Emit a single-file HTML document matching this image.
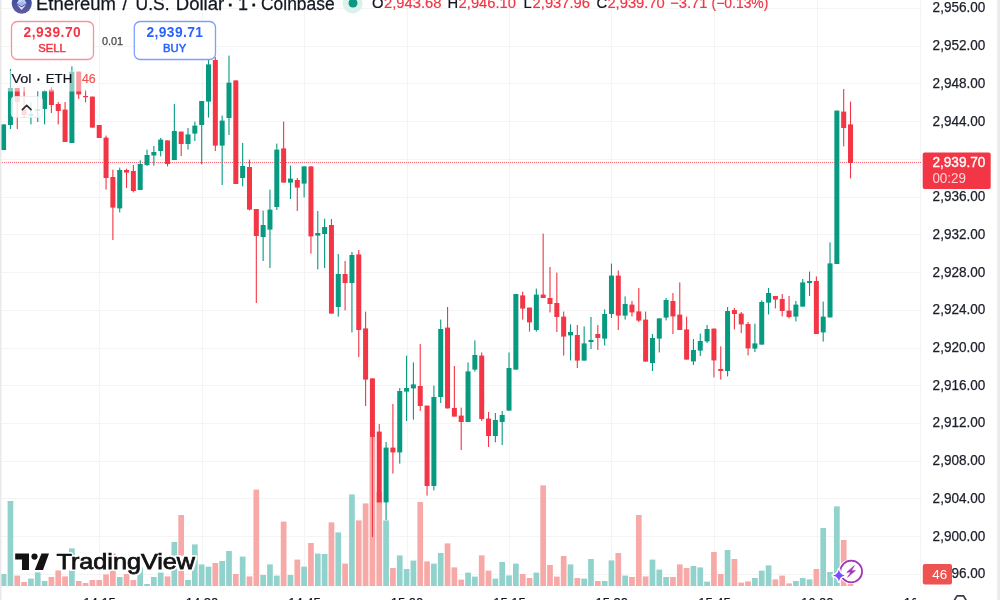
<!DOCTYPE html>
<html><head><meta charset="utf-8"><title>ETHUSD chart</title>
<style>html,body{margin:0;padding:0;background:#fff;width:1000px;height:600px;overflow:hidden}svg{filter:blur(0.45px)}</style>
</head><body>
<svg width="1000" height="600" viewBox="0 0 1000 600" style="position:absolute;left:0;top:0">
<rect width="1000" height="600" fill="#fff"/>
<g stroke="#f4f4f5" stroke-width="1" shape-rendering="crispEdges">
<line x1="0" x2="922" y1="8.5" y2="8.5"/>
<line x1="0" x2="922" y1="46.23" y2="46.23"/>
<line x1="0" x2="922" y1="83.96" y2="83.96"/>
<line x1="0" x2="922" y1="121.69" y2="121.69"/>
<line x1="0" x2="922" y1="159.42" y2="159.42"/>
<line x1="0" x2="922" y1="197.15" y2="197.15"/>
<line x1="0" x2="922" y1="234.88" y2="234.88"/>
<line x1="0" x2="922" y1="272.61" y2="272.61"/>
<line x1="0" x2="922" y1="310.34" y2="310.34"/>
<line x1="0" x2="922" y1="348.07" y2="348.07"/>
<line x1="0" x2="922" y1="385.8" y2="385.8"/>
<line x1="0" x2="922" y1="423.53" y2="423.53"/>
<line x1="0" x2="922" y1="461.26" y2="461.26"/>
<line x1="0" x2="922" y1="498.99" y2="498.99"/>
<line x1="0" x2="922" y1="536.72" y2="536.72"/>
<line x1="0" x2="922" y1="574.45" y2="574.45"/>
<line x1="99.6" x2="99.6" y1="0" y2="586"/>
<line x1="202" x2="202" y1="0" y2="586"/>
<line x1="304.5" x2="304.5" y1="0" y2="586"/>
<line x1="407" x2="407" y1="0" y2="586"/>
<line x1="509.5" x2="509.5" y1="0" y2="586"/>
<line x1="611.8" x2="611.8" y1="0" y2="586"/>
<line x1="714.5" x2="714.5" y1="0" y2="586"/>
<line x1="817.2" x2="817.2" y1="0" y2="586"/>
<line x1="920.5" x2="920.5" y1="0" y2="586"/>
</g>
<g>
<rect x="0.75" y="574" width="5.7" height="12" fill="#92D2CC"/>
<rect x="7.58" y="501" width="5.7" height="85" fill="#92D2CC"/>
<rect x="14.41" y="575.6" width="5.7" height="10.4" fill="#F7A9A7"/>
<rect x="21.24" y="582" width="5.7" height="4" fill="#F7A9A7"/>
<rect x="28.07" y="578.6" width="5.7" height="7.4" fill="#92D2CC"/>
<rect x="34.9" y="572.4" width="5.7" height="13.6" fill="#92D2CC"/>
<rect x="41.73" y="581" width="5.7" height="5" fill="#92D2CC"/>
<rect x="48.56" y="577" width="5.7" height="9" fill="#F7A9A7"/>
<rect x="55.39" y="570.4" width="5.7" height="15.6" fill="#F7A9A7"/>
<rect x="62.22" y="576.4" width="5.7" height="9.6" fill="#F7A9A7"/>
<rect x="69.05" y="548.4" width="5.7" height="37.6" fill="#92D2CC"/>
<rect x="75.88" y="581" width="5.7" height="5" fill="#F7A9A7"/>
<rect x="82.71" y="583" width="5.7" height="3" fill="#F7A9A7"/>
<rect x="89.54" y="580" width="5.7" height="6" fill="#F7A9A7"/>
<rect x="96.37" y="580" width="5.7" height="6" fill="#F7A9A7"/>
<rect x="103.2" y="574.4" width="5.7" height="11.6" fill="#F7A9A7"/>
<rect x="110.03" y="553.6" width="5.7" height="32.4" fill="#F7A9A7"/>
<rect x="116.86" y="577" width="5.7" height="9" fill="#92D2CC"/>
<rect x="123.69" y="574" width="5.7" height="12" fill="#F7A9A7"/>
<rect x="130.52" y="580" width="5.7" height="6" fill="#F7A9A7"/>
<rect x="137.35" y="567.6" width="5.7" height="18.4" fill="#92D2CC"/>
<rect x="144.18" y="584" width="5.7" height="2" fill="#92D2CC"/>
<rect x="151.01" y="577" width="5.7" height="9" fill="#92D2CC"/>
<rect x="157.84" y="572.6" width="5.7" height="13.4" fill="#92D2CC"/>
<rect x="164.67" y="576.4" width="5.7" height="9.6" fill="#F7A9A7"/>
<rect x="171.5" y="542" width="5.7" height="44" fill="#92D2CC"/>
<rect x="178.33" y="515" width="5.7" height="71" fill="#F7A9A7"/>
<rect x="185.16" y="580" width="5.7" height="6" fill="#92D2CC"/>
<rect x="191.99" y="544.4" width="5.7" height="41.6" fill="#92D2CC"/>
<rect x="198.82" y="564.4" width="5.7" height="21.6" fill="#92D2CC"/>
<rect x="205.65" y="566.6" width="5.7" height="19.4" fill="#92D2CC"/>
<rect x="212.48" y="563" width="5.7" height="23" fill="#F7A9A7"/>
<rect x="219.31" y="561" width="5.7" height="25" fill="#92D2CC"/>
<rect x="226.14" y="551" width="5.7" height="35" fill="#92D2CC"/>
<rect x="232.97" y="574" width="5.7" height="12" fill="#F7A9A7"/>
<rect x="239.8" y="556.6" width="5.7" height="29.4" fill="#92D2CC"/>
<rect x="246.63" y="576.4" width="5.7" height="9.6" fill="#F7A9A7"/>
<rect x="253.46" y="489.6" width="5.7" height="96.4" fill="#F7A9A7"/>
<rect x="260.29" y="575" width="5.7" height="11" fill="#92D2CC"/>
<rect x="267.12" y="564.4" width="5.7" height="21.6" fill="#92D2CC"/>
<rect x="273.95" y="575.6" width="5.7" height="10.4" fill="#92D2CC"/>
<rect x="280.78" y="521.6" width="5.7" height="64.4" fill="#F7A9A7"/>
<rect x="287.61" y="575" width="5.7" height="11" fill="#92D2CC"/>
<rect x="294.44" y="559.6" width="5.7" height="26.4" fill="#F7A9A7"/>
<rect x="301.27" y="566.6" width="5.7" height="19.4" fill="#92D2CC"/>
<rect x="308.1" y="543" width="5.7" height="43" fill="#F7A9A7"/>
<rect x="314.93" y="553.6" width="5.7" height="32.4" fill="#92D2CC"/>
<rect x="321.76" y="554" width="5.7" height="32" fill="#92D2CC"/>
<rect x="328.59" y="522.4" width="5.7" height="63.6" fill="#F7A9A7"/>
<rect x="335.42" y="532.4" width="5.7" height="53.6" fill="#92D2CC"/>
<rect x="342.25" y="563.6" width="5.7" height="22.4" fill="#F7A9A7"/>
<rect x="349.08" y="494.4" width="5.7" height="91.6" fill="#92D2CC"/>
<rect x="355.91" y="520.4" width="5.7" height="65.6" fill="#F7A9A7"/>
<rect x="362.74" y="503.4" width="5.7" height="82.6" fill="#F7A9A7"/>
<rect x="369.57" y="437" width="5.7" height="149" fill="#F7A9A7"/>
<rect x="376.4" y="492" width="5.7" height="94" fill="#F7A9A7"/>
<rect x="383.23" y="520.4" width="5.7" height="65.6" fill="#92D2CC"/>
<rect x="390.06" y="568" width="5.7" height="18" fill="#F7A9A7"/>
<rect x="396.89" y="555.4" width="5.7" height="30.6" fill="#92D2CC"/>
<rect x="403.72" y="569" width="5.7" height="17" fill="#92D2CC"/>
<rect x="410.55" y="560.6" width="5.7" height="25.4" fill="#92D2CC"/>
<rect x="417.38" y="502" width="5.7" height="84" fill="#F7A9A7"/>
<rect x="424.21" y="561.4" width="5.7" height="24.6" fill="#F7A9A7"/>
<rect x="431.04" y="563.6" width="5.7" height="22.4" fill="#92D2CC"/>
<rect x="437.87" y="553" width="5.7" height="33" fill="#92D2CC"/>
<rect x="444.7" y="543.4" width="5.7" height="42.6" fill="#F7A9A7"/>
<rect x="451.53" y="567.4" width="5.7" height="18.6" fill="#F7A9A7"/>
<rect x="458.36" y="579.6" width="5.7" height="6.4" fill="#F7A9A7"/>
<rect x="465.19" y="572.6" width="5.7" height="13.4" fill="#92D2CC"/>
<rect x="472.02" y="576.6" width="5.7" height="9.4" fill="#92D2CC"/>
<rect x="478.85" y="555.4" width="5.7" height="30.6" fill="#F7A9A7"/>
<rect x="485.68" y="570.6" width="5.7" height="15.4" fill="#F7A9A7"/>
<rect x="492.51" y="578.6" width="5.7" height="7.4" fill="#92D2CC"/>
<rect x="499.34" y="562" width="5.7" height="24" fill="#92D2CC"/>
<rect x="506.17" y="575.4" width="5.7" height="10.6" fill="#92D2CC"/>
<rect x="513" y="563.6" width="5.7" height="22.4" fill="#92D2CC"/>
<rect x="519.83" y="574" width="5.7" height="12" fill="#F7A9A7"/>
<rect x="526.66" y="578" width="5.7" height="8" fill="#F7A9A7"/>
<rect x="533.49" y="572.6" width="5.7" height="13.4" fill="#92D2CC"/>
<rect x="540.32" y="485.4" width="5.7" height="100.6" fill="#F7A9A7"/>
<rect x="547.15" y="565" width="5.7" height="21" fill="#F7A9A7"/>
<rect x="553.98" y="576.6" width="5.7" height="9.4" fill="#F7A9A7"/>
<rect x="560.81" y="556" width="5.7" height="30" fill="#F7A9A7"/>
<rect x="567.64" y="564.4" width="5.7" height="21.6" fill="#92D2CC"/>
<rect x="574.47" y="578" width="5.7" height="8" fill="#F7A9A7"/>
<rect x="581.3" y="578.6" width="5.7" height="7.4" fill="#92D2CC"/>
<rect x="588.13" y="559" width="5.7" height="27" fill="#92D2CC"/>
<rect x="594.96" y="581" width="5.7" height="5" fill="#F7A9A7"/>
<rect x="601.79" y="581" width="5.7" height="5" fill="#92D2CC"/>
<rect x="608.62" y="560.4" width="5.7" height="25.6" fill="#92D2CC"/>
<rect x="615.45" y="553" width="5.7" height="33" fill="#F7A9A7"/>
<rect x="622.28" y="575.6" width="5.7" height="10.4" fill="#92D2CC"/>
<rect x="629.11" y="577" width="5.7" height="9" fill="#F7A9A7"/>
<rect x="635.94" y="515" width="5.7" height="71" fill="#F7A9A7"/>
<rect x="642.77" y="576.4" width="5.7" height="9.6" fill="#F7A9A7"/>
<rect x="649.6" y="559.6" width="5.7" height="26.4" fill="#92D2CC"/>
<rect x="656.43" y="569.6" width="5.7" height="16.4" fill="#92D2CC"/>
<rect x="663.26" y="577" width="5.7" height="9" fill="#92D2CC"/>
<rect x="670.09" y="577" width="5.7" height="9" fill="#F7A9A7"/>
<rect x="676.92" y="564.4" width="5.7" height="21.6" fill="#F7A9A7"/>
<rect x="683.75" y="568" width="5.7" height="18" fill="#F7A9A7"/>
<rect x="690.58" y="566" width="5.7" height="20" fill="#92D2CC"/>
<rect x="697.41" y="567.4" width="5.7" height="18.6" fill="#92D2CC"/>
<rect x="704.24" y="581.6" width="5.7" height="4.4" fill="#92D2CC"/>
<rect x="711.07" y="552" width="5.7" height="34" fill="#F7A9A7"/>
<rect x="717.9" y="574" width="5.7" height="12" fill="#F7A9A7"/>
<rect x="724.73" y="550" width="5.7" height="36" fill="#92D2CC"/>
<rect x="731.56" y="559" width="5.7" height="27" fill="#F7A9A7"/>
<rect x="738.39" y="582.6" width="5.7" height="3.4" fill="#F7A9A7"/>
<rect x="745.22" y="581.4" width="5.7" height="4.6" fill="#F7A9A7"/>
<rect x="752.05" y="578" width="5.7" height="8" fill="#92D2CC"/>
<rect x="758.88" y="570.6" width="5.7" height="15.4" fill="#92D2CC"/>
<rect x="765.71" y="565.4" width="5.7" height="20.6" fill="#92D2CC"/>
<rect x="772.54" y="579.4" width="5.7" height="6.6" fill="#F7A9A7"/>
<rect x="779.37" y="575.6" width="5.7" height="10.4" fill="#F7A9A7"/>
<rect x="786.2" y="583.4" width="5.7" height="2.6" fill="#F7A9A7"/>
<rect x="793.03" y="581" width="5.7" height="5" fill="#92D2CC"/>
<rect x="799.86" y="578" width="5.7" height="8" fill="#92D2CC"/>
<rect x="806.69" y="579.4" width="5.7" height="6.6" fill="#92D2CC"/>
<rect x="813.52" y="569" width="5.7" height="17" fill="#F7A9A7"/>
<rect x="820.35" y="528" width="5.7" height="58" fill="#92D2CC"/>
<rect x="827.18" y="572" width="5.7" height="14" fill="#92D2CC"/>
<rect x="834.01" y="506.4" width="5.7" height="79.6" fill="#92D2CC"/>
<rect x="840.84" y="540" width="5.7" height="46" fill="#F7A9A7"/>
<rect x="847.67" y="584" width="5.7" height="2" fill="#F7A9A7"/>
</g>
<line x1="0" x2="921" y1="162.5" y2="162.5" stroke="#F23645" stroke-width="1" stroke-dasharray="1 1" opacity="0.75"/>
<g>
<rect x="3.05" y="124.4" width="1.1" height="25.6" fill="#089981"/>
<rect x="1.1" y="124.4" width="5" height="25.6" fill="#089981"/>
<rect x="9.88" y="69" width="1.1" height="60" fill="#089981"/>
<rect x="7.93" y="88" width="5" height="37" fill="#089981"/>
<rect x="16.71" y="88" width="1.1" height="41" fill="#F23645"/>
<rect x="14.76" y="88" width="5" height="14" fill="#F23645"/>
<rect x="23.54" y="87" width="1.1" height="31" fill="#F23645"/>
<rect x="21.59" y="109" width="5" height="6" fill="#F23645"/>
<rect x="30.37" y="102" width="1.1" height="22.4" fill="#089981"/>
<rect x="28.42" y="114" width="5" height="1.6" fill="#089981"/>
<rect x="37.2" y="91" width="1.1" height="31" fill="#089981"/>
<rect x="35.25" y="109" width="5" height="2" fill="#089981"/>
<rect x="44.03" y="90" width="1.1" height="34.4" fill="#089981"/>
<rect x="42.08" y="91" width="5" height="18" fill="#089981"/>
<rect x="50.86" y="87" width="1.1" height="26" fill="#F23645"/>
<rect x="48.91" y="89.6" width="5" height="15.4" fill="#F23645"/>
<rect x="57.69" y="102" width="1.1" height="22.4" fill="#F23645"/>
<rect x="55.74" y="104" width="5" height="7" fill="#F23645"/>
<rect x="64.52" y="102" width="1.1" height="40" fill="#F23645"/>
<rect x="62.57" y="109.6" width="5" height="32.4" fill="#F23645"/>
<rect x="71.35" y="66.4" width="1.1" height="76.6" fill="#089981"/>
<rect x="69.4" y="71.6" width="5" height="71.4" fill="#089981"/>
<rect x="78.18" y="71.6" width="1.1" height="27.4" fill="#F23645"/>
<rect x="76.23" y="71.6" width="5" height="22.8" fill="#F23645"/>
<rect x="85.01" y="90" width="1.1" height="12.4" fill="#F23645"/>
<rect x="83.06" y="96" width="5" height="1.2" fill="#F23645"/>
<rect x="91.84" y="96.6" width="1.1" height="31" fill="#F23645"/>
<rect x="89.89" y="96.6" width="5" height="31" fill="#F23645"/>
<rect x="98.67" y="125" width="1.1" height="13" fill="#F23645"/>
<rect x="96.72" y="125" width="5" height="13" fill="#F23645"/>
<rect x="105.5" y="135.6" width="1.1" height="54" fill="#F23645"/>
<rect x="103.55" y="137.6" width="5" height="40.4" fill="#F23645"/>
<rect x="112.33" y="169.6" width="1.1" height="70.4" fill="#F23645"/>
<rect x="110.38" y="177" width="5" height="30.6" fill="#F23645"/>
<rect x="119.16" y="167.6" width="1.1" height="44.8" fill="#089981"/>
<rect x="117.21" y="170" width="5" height="38.4" fill="#089981"/>
<rect x="125.99" y="168.6" width="1.1" height="19.4" fill="#F23645"/>
<rect x="124.04" y="170" width="5" height="2.6" fill="#F23645"/>
<rect x="132.82" y="165" width="1.1" height="27.4" fill="#F23645"/>
<rect x="130.87" y="171" width="5" height="20" fill="#F23645"/>
<rect x="139.65" y="160.4" width="1.1" height="29.6" fill="#089981"/>
<rect x="137.7" y="164" width="5" height="26" fill="#089981"/>
<rect x="146.48" y="149.6" width="1.1" height="16.4" fill="#089981"/>
<rect x="144.53" y="155" width="5" height="10" fill="#089981"/>
<rect x="153.31" y="146" width="1.1" height="19.6" fill="#089981"/>
<rect x="151.36" y="152" width="5" height="3.5" fill="#089981"/>
<rect x="160.14" y="138" width="1.1" height="18.4" fill="#089981"/>
<rect x="158.19" y="139.6" width="5" height="11.4" fill="#089981"/>
<rect x="166.97" y="140.4" width="1.1" height="26" fill="#F23645"/>
<rect x="165.02" y="140.4" width="5" height="23.6" fill="#F23645"/>
<rect x="173.8" y="104" width="1.1" height="56" fill="#089981"/>
<rect x="171.85" y="131" width="5" height="29" fill="#089981"/>
<rect x="180.63" y="131.6" width="1.1" height="24.4" fill="#F23645"/>
<rect x="178.68" y="131.6" width="5" height="12.4" fill="#F23645"/>
<rect x="187.46" y="128" width="1.1" height="21.6" fill="#089981"/>
<rect x="185.51" y="134.4" width="5" height="9.6" fill="#089981"/>
<rect x="194.29" y="121.6" width="1.1" height="19.4" fill="#089981"/>
<rect x="192.34" y="125.6" width="5" height="8" fill="#089981"/>
<rect x="201.12" y="101" width="1.1" height="63.4" fill="#089981"/>
<rect x="199.17" y="101" width="5" height="24" fill="#089981"/>
<rect x="207.95" y="60" width="1.1" height="57.6" fill="#089981"/>
<rect x="206" y="64.4" width="5" height="37.2" fill="#089981"/>
<rect x="214.78" y="57" width="1.1" height="94" fill="#F23645"/>
<rect x="212.83" y="60" width="5" height="85.6" fill="#F23645"/>
<rect x="221.61" y="115.6" width="1.1" height="69.4" fill="#089981"/>
<rect x="219.66" y="120.6" width="5" height="25" fill="#089981"/>
<rect x="228.44" y="55.6" width="1.1" height="79.4" fill="#089981"/>
<rect x="226.49" y="82.6" width="5" height="35.4" fill="#089981"/>
<rect x="235.27" y="80.4" width="1.1" height="103.6" fill="#F23645"/>
<rect x="233.32" y="80.4" width="5" height="103.6" fill="#F23645"/>
<rect x="242.1" y="143" width="1.1" height="43.4" fill="#089981"/>
<rect x="240.15" y="166" width="5" height="12" fill="#089981"/>
<rect x="248.93" y="159.6" width="1.1" height="50.8" fill="#F23645"/>
<rect x="246.98" y="167" width="5" height="42.6" fill="#F23645"/>
<rect x="255.76" y="209" width="1.1" height="94" fill="#F23645"/>
<rect x="253.81" y="209" width="5" height="27" fill="#F23645"/>
<rect x="262.59" y="210.6" width="1.1" height="50.4" fill="#089981"/>
<rect x="260.64" y="225" width="5" height="12" fill="#089981"/>
<rect x="269.42" y="189.6" width="1.1" height="78.4" fill="#089981"/>
<rect x="267.47" y="209.6" width="5" height="20" fill="#089981"/>
<rect x="276.25" y="143.6" width="1.1" height="66.4" fill="#089981"/>
<rect x="274.3" y="149.6" width="5" height="57.4" fill="#089981"/>
<rect x="283.08" y="121.6" width="1.1" height="61" fill="#F23645"/>
<rect x="281.13" y="148.4" width="5" height="34.2" fill="#F23645"/>
<rect x="289.91" y="165.6" width="1.1" height="33.4" fill="#089981"/>
<rect x="287.96" y="178.6" width="5" height="4" fill="#089981"/>
<rect x="296.74" y="178" width="1.1" height="33" fill="#F23645"/>
<rect x="294.79" y="180" width="5" height="7.6" fill="#F23645"/>
<rect x="303.57" y="166.4" width="1.1" height="31" fill="#089981"/>
<rect x="301.62" y="166.4" width="5" height="17.2" fill="#089981"/>
<rect x="310.4" y="166.4" width="1.1" height="87.2" fill="#F23645"/>
<rect x="308.45" y="166.4" width="5" height="70" fill="#F23645"/>
<rect x="317.23" y="211" width="1.1" height="58.4" fill="#089981"/>
<rect x="315.28" y="233" width="5" height="2.6" fill="#089981"/>
<rect x="324.06" y="218.6" width="1.1" height="49.4" fill="#089981"/>
<rect x="322.11" y="227" width="5" height="7" fill="#089981"/>
<rect x="330.89" y="219" width="1.1" height="94.6" fill="#F23645"/>
<rect x="328.94" y="225" width="5" height="88.6" fill="#F23645"/>
<rect x="337.72" y="254" width="1.1" height="62.6" fill="#089981"/>
<rect x="335.77" y="274" width="5" height="33" fill="#089981"/>
<rect x="344.55" y="261" width="1.1" height="49.4" fill="#F23645"/>
<rect x="342.6" y="274" width="5" height="9" fill="#F23645"/>
<rect x="351.38" y="252" width="1.1" height="80.4" fill="#089981"/>
<rect x="349.43" y="255" width="5" height="28" fill="#089981"/>
<rect x="358.21" y="250" width="1.1" height="107" fill="#F23645"/>
<rect x="356.26" y="254.4" width="5" height="75.6" fill="#F23645"/>
<rect x="365.04" y="311.6" width="1.1" height="94.4" fill="#F23645"/>
<rect x="363.09" y="328.4" width="5" height="51.2" fill="#F23645"/>
<rect x="371.87" y="378.4" width="1.1" height="158.6" fill="#F23645"/>
<rect x="369.92" y="378.4" width="5" height="58.6" fill="#F23645"/>
<rect x="378.7" y="424" width="1.1" height="78.4" fill="#F23645"/>
<rect x="376.75" y="431.6" width="5" height="70.8" fill="#F23645"/>
<rect x="385.53" y="442" width="1.1" height="78" fill="#089981"/>
<rect x="383.58" y="447.6" width="5" height="54.8" fill="#089981"/>
<rect x="392.36" y="404" width="1.1" height="69.6" fill="#F23645"/>
<rect x="390.41" y="447.6" width="5" height="4.8" fill="#F23645"/>
<rect x="399.19" y="388" width="1.1" height="75.6" fill="#089981"/>
<rect x="397.24" y="391" width="5" height="61.4" fill="#089981"/>
<rect x="406.02" y="355.6" width="1.1" height="65.4" fill="#089981"/>
<rect x="404.07" y="388" width="5" height="3.6" fill="#089981"/>
<rect x="412.85" y="362.4" width="1.1" height="57.2" fill="#089981"/>
<rect x="410.9" y="384.4" width="5" height="4" fill="#089981"/>
<rect x="419.68" y="344" width="1.1" height="67" fill="#F23645"/>
<rect x="417.73" y="386" width="5" height="20" fill="#F23645"/>
<rect x="426.51" y="405.6" width="1.1" height="90" fill="#F23645"/>
<rect x="424.56" y="405.6" width="5" height="80.4" fill="#F23645"/>
<rect x="433.34" y="385.6" width="1.1" height="104.8" fill="#089981"/>
<rect x="431.39" y="397" width="5" height="89" fill="#089981"/>
<rect x="440.17" y="319.6" width="1.1" height="83.4" fill="#089981"/>
<rect x="438.22" y="329" width="5" height="68" fill="#089981"/>
<rect x="447" y="307" width="1.1" height="101.4" fill="#F23645"/>
<rect x="445.05" y="327.6" width="5" height="80.8" fill="#F23645"/>
<rect x="453.83" y="366" width="1.1" height="50.6" fill="#F23645"/>
<rect x="451.88" y="408" width="5" height="8.6" fill="#F23645"/>
<rect x="460.66" y="407.6" width="1.1" height="42.4" fill="#F23645"/>
<rect x="458.71" y="415.6" width="5" height="6.4" fill="#F23645"/>
<rect x="467.49" y="362.4" width="1.1" height="59.6" fill="#089981"/>
<rect x="465.54" y="371.4" width="5" height="50.6" fill="#089981"/>
<rect x="474.32" y="340.4" width="1.1" height="31.2" fill="#089981"/>
<rect x="472.37" y="355" width="5" height="14.6" fill="#089981"/>
<rect x="481.15" y="352.4" width="1.1" height="68.6" fill="#F23645"/>
<rect x="479.2" y="355.6" width="5" height="63.4" fill="#F23645"/>
<rect x="487.98" y="412" width="1.1" height="35" fill="#F23645"/>
<rect x="486.03" y="418.6" width="5" height="17.4" fill="#F23645"/>
<rect x="494.81" y="413" width="1.1" height="29.4" fill="#089981"/>
<rect x="492.86" y="420" width="5" height="16" fill="#089981"/>
<rect x="501.64" y="411" width="1.1" height="34" fill="#089981"/>
<rect x="499.69" y="415" width="5" height="7" fill="#089981"/>
<rect x="508.47" y="352.5" width="1.1" height="58.1" fill="#089981"/>
<rect x="506.52" y="368" width="5" height="42.6" fill="#089981"/>
<rect x="515.3" y="294" width="1.1" height="75.6" fill="#089981"/>
<rect x="513.35" y="294" width="5" height="75.6" fill="#089981"/>
<rect x="522.13" y="291.6" width="1.1" height="28" fill="#F23645"/>
<rect x="520.18" y="295.4" width="5" height="13.2" fill="#F23645"/>
<rect x="528.96" y="307.6" width="1.1" height="24" fill="#F23645"/>
<rect x="527.01" y="307.6" width="5" height="14.8" fill="#F23645"/>
<rect x="535.79" y="288.6" width="1.1" height="43" fill="#089981"/>
<rect x="533.84" y="294.6" width="5" height="35.4" fill="#089981"/>
<rect x="542.62" y="233.6" width="1.1" height="64.4" fill="#F23645"/>
<rect x="540.67" y="294.6" width="5" height="3.4" fill="#F23645"/>
<rect x="549.45" y="267" width="1.1" height="45.4" fill="#F23645"/>
<rect x="547.5" y="298" width="5" height="6" fill="#F23645"/>
<rect x="556.28" y="272.6" width="1.1" height="59.4" fill="#F23645"/>
<rect x="554.33" y="303" width="5" height="14" fill="#F23645"/>
<rect x="563.11" y="311.6" width="1.1" height="44" fill="#F23645"/>
<rect x="561.16" y="316.6" width="5" height="20" fill="#F23645"/>
<rect x="569.94" y="324.4" width="1.1" height="36" fill="#089981"/>
<rect x="567.99" y="332" width="5" height="3.4" fill="#089981"/>
<rect x="576.77" y="325" width="1.1" height="43" fill="#F23645"/>
<rect x="574.82" y="335" width="5" height="25.6" fill="#F23645"/>
<rect x="583.6" y="326.4" width="1.1" height="34.2" fill="#089981"/>
<rect x="581.65" y="343.4" width="5" height="17.2" fill="#089981"/>
<rect x="590.43" y="317" width="1.1" height="32" fill="#089981"/>
<rect x="588.48" y="340" width="5" height="2" fill="#089981"/>
<rect x="597.26" y="325" width="1.1" height="25" fill="#F23645"/>
<rect x="595.31" y="334" width="5" height="4" fill="#F23645"/>
<rect x="604.09" y="309.4" width="1.1" height="36" fill="#089981"/>
<rect x="602.14" y="314" width="5" height="24.6" fill="#089981"/>
<rect x="610.92" y="263.6" width="1.1" height="54.4" fill="#089981"/>
<rect x="608.97" y="275.6" width="5" height="38.4" fill="#089981"/>
<rect x="617.75" y="270.4" width="1.1" height="59.6" fill="#F23645"/>
<rect x="615.8" y="275.6" width="5" height="40" fill="#F23645"/>
<rect x="624.58" y="296.4" width="1.1" height="23.2" fill="#089981"/>
<rect x="622.63" y="304" width="5" height="11.6" fill="#089981"/>
<rect x="631.41" y="301" width="1.1" height="15.4" fill="#F23645"/>
<rect x="629.46" y="304.6" width="5" height="7.8" fill="#F23645"/>
<rect x="638.24" y="288" width="1.1" height="34" fill="#F23645"/>
<rect x="636.29" y="311.4" width="5" height="9.2" fill="#F23645"/>
<rect x="645.07" y="311.6" width="1.1" height="50" fill="#F23645"/>
<rect x="643.12" y="319.6" width="5" height="42" fill="#F23645"/>
<rect x="651.9" y="334" width="1.1" height="37" fill="#089981"/>
<rect x="649.95" y="338" width="5" height="25" fill="#089981"/>
<rect x="658.73" y="318.4" width="1.1" height="34" fill="#089981"/>
<rect x="656.78" y="318.4" width="5" height="20.2" fill="#089981"/>
<rect x="665.56" y="298" width="1.1" height="22.4" fill="#089981"/>
<rect x="663.61" y="300" width="5" height="17.6" fill="#089981"/>
<rect x="672.39" y="293" width="1.1" height="41" fill="#F23645"/>
<rect x="670.44" y="301" width="5" height="15.4" fill="#F23645"/>
<rect x="679.22" y="282.4" width="1.1" height="47.6" fill="#F23645"/>
<rect x="677.27" y="314.6" width="5" height="15.4" fill="#F23645"/>
<rect x="686.05" y="316.6" width="1.1" height="43" fill="#F23645"/>
<rect x="684.1" y="329.4" width="5" height="30.2" fill="#F23645"/>
<rect x="692.88" y="339" width="1.1" height="26" fill="#089981"/>
<rect x="690.93" y="350" width="5" height="11.4" fill="#089981"/>
<rect x="699.71" y="333.6" width="1.1" height="22.4" fill="#089981"/>
<rect x="697.76" y="341" width="5" height="9.6" fill="#089981"/>
<rect x="706.54" y="325" width="1.1" height="18" fill="#089981"/>
<rect x="704.59" y="329" width="5" height="12.4" fill="#089981"/>
<rect x="713.37" y="328.6" width="1.1" height="48.8" fill="#F23645"/>
<rect x="711.42" y="328.6" width="5" height="31.8" fill="#F23645"/>
<rect x="720.2" y="346.4" width="1.1" height="33.2" fill="#F23645"/>
<rect x="718.25" y="369" width="5" height="2" fill="#F23645"/>
<rect x="727.03" y="307" width="1.1" height="69.4" fill="#089981"/>
<rect x="725.08" y="311" width="5" height="60" fill="#089981"/>
<rect x="733.86" y="308" width="1.1" height="21.4" fill="#F23645"/>
<rect x="731.91" y="310" width="5" height="4" fill="#F23645"/>
<rect x="740.69" y="312" width="1.1" height="21" fill="#F23645"/>
<rect x="738.74" y="313.6" width="5" height="10.8" fill="#F23645"/>
<rect x="747.52" y="322" width="1.1" height="33.4" fill="#F23645"/>
<rect x="745.57" y="324" width="5" height="24.4" fill="#F23645"/>
<rect x="754.35" y="323.6" width="1.1" height="28.4" fill="#089981"/>
<rect x="752.4" y="343.4" width="5" height="5.2" fill="#089981"/>
<rect x="761.18" y="300.4" width="1.1" height="44.2" fill="#089981"/>
<rect x="759.23" y="302" width="5" height="42.6" fill="#089981"/>
<rect x="768.01" y="288" width="1.1" height="26.4" fill="#089981"/>
<rect x="766.06" y="293" width="5" height="9.6" fill="#089981"/>
<rect x="774.84" y="296" width="1.1" height="12.4" fill="#F23645"/>
<rect x="772.89" y="296" width="5" height="3.6" fill="#F23645"/>
<rect x="781.67" y="294" width="1.1" height="22.4" fill="#F23645"/>
<rect x="779.72" y="299" width="5" height="12" fill="#F23645"/>
<rect x="788.5" y="296" width="1.1" height="22.4" fill="#F23645"/>
<rect x="786.55" y="310.6" width="5" height="6.4" fill="#F23645"/>
<rect x="795.33" y="301" width="1.1" height="20.4" fill="#089981"/>
<rect x="793.38" y="304.6" width="5" height="12" fill="#089981"/>
<rect x="802.16" y="279" width="1.1" height="27.6" fill="#089981"/>
<rect x="800.21" y="282.4" width="5" height="24.2" fill="#089981"/>
<rect x="808.99" y="271.6" width="1.1" height="24.4" fill="#089981"/>
<rect x="807.04" y="281" width="5" height="2" fill="#089981"/>
<rect x="815.82" y="276.4" width="1.1" height="57.6" fill="#F23645"/>
<rect x="813.87" y="281" width="5" height="53" fill="#F23645"/>
<rect x="822.65" y="301.6" width="1.1" height="40" fill="#089981"/>
<rect x="820.7" y="316.6" width="5" height="15.8" fill="#089981"/>
<rect x="829.48" y="242.4" width="1.1" height="75" fill="#089981"/>
<rect x="827.53" y="263.4" width="5" height="54" fill="#089981"/>
<rect x="836.31" y="110.6" width="1.1" height="153.4" fill="#089981"/>
<rect x="834.36" y="110.6" width="5" height="153.4" fill="#089981"/>
<rect x="843.14" y="89" width="1.1" height="57.4" fill="#F23645"/>
<rect x="841.19" y="111.6" width="5" height="16.4" fill="#F23645"/>
<rect x="849.97" y="101.6" width="1.1" height="76.8" fill="#F23645"/>
<rect x="848.02" y="124.4" width="5" height="38.6" fill="#F23645"/>
</g>
<!-- price axis labels -->
<g font-family="'Liberation Sans', sans-serif" font-size="14" fill="#1c1f2a" stroke="#1c1f2a" stroke-width="0.25" text-anchor="start">
<text x="932.6" y="12.4" textLength="52.8" lengthAdjust="spacingAndGlyphs">2,956.00</text>
<text x="932.6" y="50.13" textLength="52.8" lengthAdjust="spacingAndGlyphs">2,952.00</text>
<text x="932.6" y="87.86" textLength="52.8" lengthAdjust="spacingAndGlyphs">2,948.00</text>
<text x="932.6" y="125.59" textLength="52.8" lengthAdjust="spacingAndGlyphs">2,944.00</text>
<text x="932.6" y="163.32" textLength="52.8" lengthAdjust="spacingAndGlyphs">2,940.00</text>
<text x="932.6" y="201.05" textLength="52.8" lengthAdjust="spacingAndGlyphs">2,936.00</text>
<text x="932.6" y="238.78" textLength="52.8" lengthAdjust="spacingAndGlyphs">2,932.00</text>
<text x="932.6" y="276.51" textLength="52.8" lengthAdjust="spacingAndGlyphs">2,928.00</text>
<text x="932.6" y="314.24" textLength="52.8" lengthAdjust="spacingAndGlyphs">2,924.00</text>
<text x="932.6" y="351.97" textLength="52.8" lengthAdjust="spacingAndGlyphs">2,920.00</text>
<text x="932.6" y="389.7" textLength="52.8" lengthAdjust="spacingAndGlyphs">2,916.00</text>
<text x="932.6" y="427.43" textLength="52.8" lengthAdjust="spacingAndGlyphs">2,912.00</text>
<text x="932.6" y="465.16" textLength="52.8" lengthAdjust="spacingAndGlyphs">2,908.00</text>
<text x="932.6" y="502.89" textLength="52.8" lengthAdjust="spacingAndGlyphs">2,904.00</text>
<text x="932.6" y="540.62" textLength="52.8" lengthAdjust="spacingAndGlyphs">2,900.00</text>
<text x="932.6" y="578.35" textLength="52.8" lengthAdjust="spacingAndGlyphs">2,896.00</text>
</g>
<!-- time labels -->
<g font-family="'Liberation Sans', sans-serif" font-size="13" fill="#131722" stroke="#131722" stroke-width="0.25" text-anchor="middle">
<text x="99.6" y="606.6">14:15</text>
<text x="202" y="606.6">14:30</text>
<text x="304.5" y="606.6">14:45</text>
<text x="407" y="606.6">15:00</text>
<text x="509.5" y="606.6">15:15</text>
<text x="611.8" y="606.6">15:30</text>
<text x="714.5" y="606.6">15:45</text>
<text x="817.2" y="606.6">16:00</text>
<clipPath id="cl"><rect x="0" y="590" width="916" height="10"/></clipPath><text x="920" y="606.6" clip-path="url(#cl)">16:15</text>
</g>
<!-- last price label -->
<rect x="922.7" y="152.5" width="68" height="36.5" rx="2" fill="#F23645"/>
<g font-family="'Liberation Sans', sans-serif" fill="#fff">
<text x="932.4" y="166.7" font-size="14" stroke="#fff" stroke-width="0.35" textLength="53" lengthAdjust="spacingAndGlyphs">2,939.70</text>
<text x="932.4" y="182.8" font-size="14" fill="#fbd3d6" textLength="33.6" lengthAdjust="spacingAndGlyphs">00:29</text>
</g>
<!-- volume label on axis -->
<rect x="922.8" y="564" width="29.2" height="20.6" rx="2" fill="#EF5350"/>
<text x="932.3" y="579" font-family="'Liberation Sans', sans-serif" font-size="13.4" fill="#fff">46</text>
<!-- header: eth icon -->
<defs><linearGradient id="eg" x1="0" y1="0" x2="0" y2="1"><stop offset="0" stop-color="#2f4a9c"/><stop offset="1" stop-color="#605c9f"/></linearGradient></defs>
<circle cx="21.75" cy="3.6" r="10.05" fill="url(#eg)"/>
<path d="M21.6 -4.8 L26.4 3.3 L21.6 6.1 L16.8 3.3 Z" fill="#d3dcf9"/>
<path d="M21.6 -4.8 L26.4 3.3 L21.6 1.2 Z" fill="#bccaf5"/>
<path d="M21.6 1.2 L26.4 3.3 L21.6 6.1 L16.8 3.3 Z" fill="#a3b8f0"/>
<path d="M21.6 7.3 L26.3 4.5 L21.6 10.1 L16.9 4.5 Z" fill="#dfe6fa"/>
<g font-family="'Liberation Sans', sans-serif" font-size="18" fill="#131722" stroke="#131722" stroke-width="0.25">
<text x="36" y="9.6" textLength="80" lengthAdjust="spacingAndGlyphs">Ethereum</text>
<text x="122.4" y="9.6">/</text>
<text x="135.6" y="9.6" textLength="34" lengthAdjust="spacingAndGlyphs">U.S.</text>
<text x="175.8" y="9.6" textLength="48.4" lengthAdjust="spacingAndGlyphs">Dollar</text>
<text x="227.3" y="9.6" stroke-width="1.1" stroke-linejoin="round">·</text>
<text x="238" y="9.6">1</text>
<text x="250.8" y="9.6" stroke-width="1.1" stroke-linejoin="round">·</text>
<text x="261" y="9.6" textLength="73.6" lengthAdjust="spacingAndGlyphs">Coinbase</text>
</g>
<circle cx="352.6" cy="3.4" r="10" fill="#dcf0ec"/>
<circle cx="353" cy="3" r="4.5" fill="#089981"/>
<g font-family="'Liberation Sans', sans-serif" font-size="14.75" fill="#F23645" stroke="#F23645" stroke-width="0.2">
<text y="8.3"><tspan x="372" fill="#131722" stroke="#131722">O</tspan><tspan x="384">2,943.68</tspan> <tspan x="447.4" fill="#131722" stroke="#131722">H</tspan><tspan x="458.6">2,946.10</tspan> <tspan x="523.6" fill="#131722" stroke="#131722">L</tspan><tspan x="532.6">2,937.96</tspan> <tspan x="596.6" fill="#131722" stroke="#131722">C</tspan><tspan x="607.4">2,939.70</tspan> <tspan x="670.2">−3.71</tspan> <tspan x="711.6" font-size="13.9">(−0.13%)</tspan></text>
</g>
<!-- sell / buy -->
<rect x="11.5" y="21.5" width="82" height="38" rx="5.8" fill="#fff" stroke="#f7929b" stroke-width="1.3"/>
<g font-family="'Liberation Sans', sans-serif" fill="#F23645" text-anchor="middle">
<text x="52.2" y="37.1" font-size="13.8" font-weight="bold" textLength="57.2" lengthAdjust="spacing">2,939.70</text>
<text x="52" y="52" font-size="11.3" stroke="#F23645" stroke-width="0.5">SELL</text>
</g>
<text x="112.5" y="44.6" font-family="'Liberation Sans', sans-serif" font-size="10.8" fill="#444" stroke="#444" stroke-width="0.25" text-anchor="middle">0.01</text>
<rect x="134.3" y="21.5" width="81.2" height="38" rx="5.8" fill="#fff" stroke="#7f9fff" stroke-width="1.3"/>
<g font-family="'Liberation Sans', sans-serif" fill="#2962FF" text-anchor="middle">
<text x="174.7" y="37.1" font-size="13.8" font-weight="bold" textLength="56.4" lengthAdjust="spacing">2,939.71</text>
<text x="174.6" y="52" font-size="11.3" stroke="#2962FF" stroke-width="0.5">BUY</text>
</g>
<!-- legend -->
<rect x="8" y="70.8" width="90" height="20.7" fill="#fff" opacity="0.5"/>
<g font-family="'Liberation Sans', sans-serif" font-size="13.2" fill="#131722" stroke="#131722" stroke-width="0.2">
<text x="11.4" y="82.8" textLength="20.2" lengthAdjust="spacingAndGlyphs">Vol</text>
<text x="36.3" y="82.8" stroke-width="0.7" stroke-linejoin="round">·</text>
<text x="45.8" y="82.8">ETH</text>
</g>
<text x="82" y="82.8" font-family="'Liberation Sans', sans-serif" font-size="13.2" fill="#EF5350" stroke="#EF5350" stroke-width="0.2" textLength="13.7" lengthAdjust="spacingAndGlyphs">46</text>
<!-- collapse button -->
<rect x="11.3" y="96.6" width="31" height="20.8" rx="3.5" fill="#fff" fill-opacity="0.82" stroke="#e6e8ee" stroke-width="0.8"/>
<path d="M22.4 109.6 L26.7 105.4 L31 109.6" fill="none" stroke="#2e2e2e" stroke-width="1.7" stroke-linecap="round" stroke-linejoin="round"/>
<!-- TradingView logo -->
<g stroke="#fff" stroke-width="4" stroke-linejoin="round" fill="#fff">
<path d="M15.2 553.5 H29 V570 H22 V559.5 H15.2 Z"/>
<circle cx="34.5" cy="556.6" r="3.1"/>
<path d="M41.5 553.5 H49 L43 570 H34.8 Z"/>
<text x="56.5" y="569" font-family="'Liberation Sans', sans-serif" font-size="21.4" font-weight="bold" textLength="138.5" lengthAdjust="spacingAndGlyphs">TradingView</text>
</g>
<g fill="#131313">
<path d="M15.2 553.5 H29 V570 H22 V559.5 H15.2 Z"/>
<circle cx="34.5" cy="556.6" r="3.1"/>
<path d="M41.5 553.5 H49 L43 570 H34.8 Z"/>
<text x="56.5" y="569" font-family="'Liberation Sans', sans-serif" font-size="21.4" stroke="#131313" stroke-width="0.75" textLength="138.5" lengthAdjust="spacingAndGlyphs">TradingView</text>
</g>
<!-- flash icon -->
<circle cx="851.2" cy="571.5" r="12.6" fill="#fff"/>
<circle cx="851.2" cy="571.5" r="10.9" fill="#fff" stroke="#a233bb" stroke-width="1.7"/>
<path d="M854.4 565.6 L846.8 572.3 L850.8 572.1 L847.6 577.2 L855.4 570.6 L851.4 570.8 Z" fill="#a233bb" stroke="#a233bb" stroke-width="0.6" stroke-linejoin="round"/>
<path d="M838.9 569.5 Q839.9 574.5 844.9 575.5 Q839.9 576.5 838.9 581.5 Q837.9 576.5 832.9 575.5 Q837.9 574.5 838.9 569.5 Z" fill="#7c4dff" stroke="#fff" stroke-width="3" paint-order="stroke" stroke-linejoin="round"/>
<!-- settings hex peeking -->
<path d="M954 601 L957 595.8 H963.4 L966.6 601" fill="none" stroke="#3a3d47" stroke-width="1.7" stroke-linejoin="round"/>
<!-- edge strips -->
<rect x="0" y="0" width="1.5" height="600" fill="#e9e9e9"/>
<rect x="997.2" y="0" width="2.8" height="600" fill="#ebebeb"/>

</svg>
</body></html>
